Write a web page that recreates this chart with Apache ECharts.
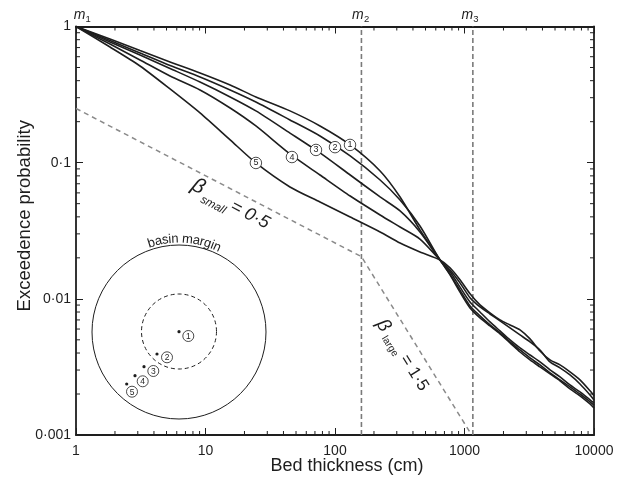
<!DOCTYPE html>
<html><head><meta charset="utf-8">
<script src="https://cdn.jsdelivr.net/npm/echarts@6/dist/echarts.min.js"></script>
<style>html,body{margin:0;padding:0;background:#fff}#c{width:627px;height:484px}</style>
</head><body><div id="c"></div>
<script>
// ---- data ----
const thickness = [1, 1.83, 3.12, 5.32, 9.07, 15.5, 24.5, 44.9, 76.6, 131, 223, 318, 453, 647, 773, 923, 1103, 1317, 1573, 1880, 2246, 2683, 3205, 3828, 4573, 5463, 6525, 7795, 9314, 10000];
const curve1 = [1,0.810,0.666,0.549,0.456,0.372,0.304,0.240,0.186,0.135,0.0869,0.0560,0.0321,0.0193,0.0150,0.0112,0.00857,0.00724,0.00632,0.00553,0.00475,0.00407,0.00356,0.00316,0.00281,0.00250,0.00218,0.00194,0.00169,0.00158];
const curve2 = [1,0.789,0.639,0.517,0.426,0.342,0.279,0.206,0.157,0.112,0.0746,0.0532,0.0343,0.0193,0.0152,0.0116,0.00887,0.00749,0.00643,0.00562,0.00483,0.00421,0.00368,0.00327,0.00286,0.00254,0.00226,0.00200,0.00175,0.00166];
const curve3 = [1,0.770,0.618,0.492,0.391,0.304,0.240,0.165,0.118,0.0812,0.0560,0.0442,0.0310,0.0193,0.0158,0.0122,0.00949,0.00801,0.00677,0.00581,0.00499,0.00436,0.00387,0.00344,0.00301,0.00267,0.00233,0.00207,0.00181,0.00172];
const curve4 = [1,0.744,0.568,0.433,0.342,0.252,0.186,0.116,0.0812,0.0569,0.0413,0.0337,0.0275,0.0193,0.0163,0.0131,0.0102,0.00872,0.00774,0.00688,0.00611,0.00543,0.00483,0.00421,0.00344,0.00311,0.00276,0.00237,0.00197,0.00181];
const curve5 = [1,0.707,0.513,0.348,0.232,0.147,0.0995,0.0663,0.0514,0.0399,0.0310,0.0257,0.0221,0.0193,0.0169,0.0138,0.0109,0.00902,0.00788,0.00700,0.00643,0.00591,0.00508,0.00414,0.00356,0.00327,0.00291,0.00254,0.00211,0.00194];
const curveNames = ['1','2','3','4','5'];
const curveLabelX = [130.6, 100, 71.3, 46.5, 24.5];
const curveLabelY = [0.135, 0.130, 0.124, 0.110, 0.0995];
const mPositions = [1, 160, 1160];
const mNames = ['1', '2', '3'];
const betaX = [1, 160, 1100];
const betaY = [0.25, 0.0204, 0.00105];
const xTicks = [1, 10, 100, 1000, 10000];
const xTickLabels = ['1', '10', '100', '1000', '10000'];
const yTicks = [0.001, 0.01, 0.1, 1];
const yTickLabels = ['0·001', '0·01', '0·1', '1'];
const xMinor = [2,3,4,5,6,7,8,9,20,30,40,50,60,70,80,90,200,300,400,500,600,700,800,900,2000,3000,4000,5000,6000,7000,8000,9000];
const yMinor = [0.002,0.003,0.004,0.005,0.006,0.007,0.008,0.009,0.02,0.03,0.04,0.05,0.06,0.07,0.08,0.09,0.2,0.3,0.4,0.5,0.6,0.7,0.8,0.9];

const FONT = '"Liberation Sans", Arial, Helvetica, sans-serif';
const INK = '#1e1e1e';
const chart = echarts.init(document.getElementById('c'), null, {renderer: 'canvas'});
const curves = [curve1, curve2, curve3, curve4, curve5];

function tickLabelX(v) {
  const k = Math.round(Math.log10(v));
  return xTickLabels[k] || '';
}
function tickLabelY(v) {
  const k = Math.round(Math.log10(v)) + 3;
  return yTickLabels[k] || '';
}

const axisCommon = {
  type: 'log', logBase: 10,
  axisLine: {show: true, lineStyle: {color: INK, width: 1.8}},
  axisTick: {show: true, inside: true, length: 7, lineStyle: {color: INK, width: 1}},
  splitLine: {show: false}, minorTick: {show: false}, minorSplitLine: {show: false}
};

const series = [];
curves.forEach((c, i) => {
  series.push({
    type: 'line', name: 'curve' + curveNames[i], xAxisIndex: 0, yAxisIndex: 0,
    data: thickness.map((x, j) => [x, c[j]]),
    showSymbol: false, smooth: 0.25, z: 3,
    lineStyle: {color: INK, width: 1.6}, silent: true
  });
});
// m2, m3 vertical dashed lines
mPositions.slice(1).forEach(x => {
  series.push({
    type: 'line', data: [[x, 0.001], [x, 1]], showSymbol: false, z: 2,
    lineStyle: {color: '#7a7a7a', width: 1.6, type: [5, 3]}, silent: true
  });
});
// beta reference line
series.push({
  type: 'line', data: betaX.map((x, i) => [x, betaY[i]]), showSymbol: false, z: 2,
  lineStyle: {color: '#8a8a8a', width: 1.5, type: [5, 4]}, silent: true
});
// circled curve labels
series.push({
  type: 'scatter', z: 6, silent: true,
  data: curveNames.map((n, i) => ({name: n, value: [curveLabelX[i], curveLabelY[i]]})),
  symbol: 'circle', symbolSize: 11.5,
  itemStyle: {color: '#fff', borderColor: INK, borderWidth: 0.8, opacity: 1},
  label: {show: true, position: 'inside', formatter: '{b}', fontSize: 9, color: INK, fontFamily: FONT}
});
// minor ticks (x)
series.push({
  type: 'custom', silent: true, clip: false, z: 4,
  data: xMinor.map(v => [v, 0.001]),
  renderItem: (params, api) => {
    const v = api.value(0);
    const b = api.coord([v, 0.001]);
    const t = api.coord([v, 1]);
    return {type: 'group', children: [
      {type: 'line', shape: {x1: b[0], y1: b[1], x2: b[0], y2: b[1] - 4}, style: {stroke: INK, lineWidth: 1}},
      {type: 'line', shape: {x1: t[0], y1: t[1], x2: t[0], y2: t[1] + 4}, style: {stroke: INK, lineWidth: 1}}
    ]};
  }
});
// minor ticks (y)
series.push({
  type: 'custom', silent: true, clip: false, z: 4,
  data: yMinor.map(v => [1, v]),
  renderItem: (params, api) => {
    const v = api.value(1);
    const l = api.coord([1, v]);
    const r = api.coord([10000, v]);
    return {type: 'group', children: [
      {type: 'line', shape: {x1: l[0], y1: l[1], x2: l[0] + 4, y2: l[1]}, style: {stroke: INK, lineWidth: 1}},
      {type: 'line', shape: {x1: r[0], y1: r[1], x2: r[0] - 4, y2: r[1]}, style: {stroke: INK, lineWidth: 1}}
    ]};
  }
});

chart.setOption({
  animation: false,
  backgroundColor: '#fff',
  grid: {left: 76, right: 33, top: 26.5, bottom: 49, containLabel: false},
  xAxis: [
    Object.assign({}, axisCommon, {
      position: 'bottom', min: 1, max: 10000,
      axisLabel: {show: true, formatter: tickLabelX, color: INK, fontSize: 14, fontFamily: FONT, margin: 9},
      name: 'Bed thickness (cm)', nameLocation: 'middle', nameGap: 22, nameMoveOverlap: false,
      nameTextStyle: {fontSize: 18, color: INK, fontFamily: FONT, padding: [0, 0, 0, 24]}
    }),
    Object.assign({}, axisCommon, {position: 'top', min: 1, max: 10000, axisLabel: {show: false}})
  ],
  yAxis: [
    Object.assign({}, axisCommon, {
      position: 'left', min: 0.001, max: 1,
      axisLabel: {show: true, formatter: tickLabelY, color: INK, fontSize: 14, fontFamily: FONT, margin: 5},
      name: 'Exceedence probability', nameLocation: 'middle', nameGap: 42, nameMoveOverlap: false,
      nameTextStyle: {fontSize: 18.5, color: INK, fontFamily: FONT, padding: [0, 0, 0, 30]}
    }),
    Object.assign({}, axisCommon, {position: 'right', min: 0.001, max: 1, axisLabel: {show: false}})
  ],
  series: series
});

// ---- annotations ----
const graphics = [];
function txt(x, y, text, size, opts) {
  opts = opts || {};
  return {
    type: 'text', x: x, y: y, silent: true,
    style: {
      text: text, fill: INK,
      font: (opts.italic ? 'italic ' : '') + size + 'px ' + FONT,
      align: opts.align || 'center', textAlign: opts.align || 'center',
      verticalAlign: opts.va || 'middle', textVerticalAlign: opts.va || 'middle'
    }
  };
}
// m labels
const mShift = [6.5, -0.5, -2.5];
mPositions.forEach((x, i) => {
  const p = chart.convertToPixel({xAxisIndex: 0, yAxisIndex: 0}, [x, 1]);
  graphics.push({
    type: 'group', x: p[0] + mShift[i], y: 15, silent: true,
    children: [
      txt(-3, 0, 'm', 14, {italic: true}),
      txt(3, 4.5, mNames[i], 9.5, {align: 'left'})
    ]
  });
});
// beta small
graphics.push({
  type: 'group', x: 226, y: 204, rotation: -0.4835, silent: true,
  children: [
    txt(-32.7, -2.5, 'β', 21, {italic: true}),
    txt(-11, 7, 'small', 11.5, {italic: true}),
    txt(26.3, -1.5, '= 0·5', 18, {italic: true})
  ]
});
// beta large
graphics.push({
  type: 'group', x: 398, y: 350, rotation: -1.0123, silent: true,
  children: [
    txt(-28.5, -0.5, 'β', 19, {italic: true}),
    txt(-7.5, 5, 'large', 10, {}),
    txt(28, -1.4, '= 1·5', 17, {})
  ]
});
// inset
const cx = 179, cy = 332;
graphics.push({type: 'circle', silent: true, shape: {cx: cx, cy: cy, r: 87}, style: {fill: 'none', stroke: INK, lineWidth: 1}});
graphics.push({type: 'circle', silent: true, shape: {cx: cx, cy: cy - 0.5, r: 37.5}, style: {fill: 'none', stroke: INK, lineWidth: 1, lineDash: [4, 3]}});
const insetDots = [[179, 331.7, 188.3, 336], [157, 354, 167, 357.3], [144, 366.7, 153.3, 371], [135, 375.7, 142.7, 381.3], [126.7, 384, 132, 391.7]];
insetDots.forEach((d, i) => {
  graphics.push({type: 'circle', silent: true, shape: {cx: d[0], cy: d[1], r: 1.6}, style: {fill: INK}});
  graphics.push({type: 'circle', silent: true, shape: {cx: d[2], cy: d[3], r: 5.5}, style: {fill: '#fff', stroke: INK, lineWidth: 0.8}});
  graphics.push(txt(d[2], d[3] + 0.5, curveNames[i], 8.5, {}));
});
// curved "basin margin"
(function () {
  const s = 'basin margin';
  const size = 13;
  const ctx = document.createElement('canvas').getContext('2d');
  ctx.font = size + 'px ' + FONT;
  const widths = s.split('').map(ch => ctx.measureText(ch).width);
  const total = widths.reduce((a, b) => a + b, 0);
  const R = 93;
  const midAngle = 0.06;
  let acc = 0;
  s.split('').forEach((ch, i) => {
    const sc = acc + widths[i] / 2;
    acc += widths[i];
    const th = midAngle + (sc - total / 2) / R;
    const x = cx + R * Math.sin(th);
    const y = cy - R * Math.cos(th);
    const t = txt(0, 0, ch, size, {});
    graphics.push({type: 'group', x: x, y: y, rotation: -th, silent: true, children: [t]});
  });
})();

chart.setOption({graphic: graphics});
</script>
</body></html>
